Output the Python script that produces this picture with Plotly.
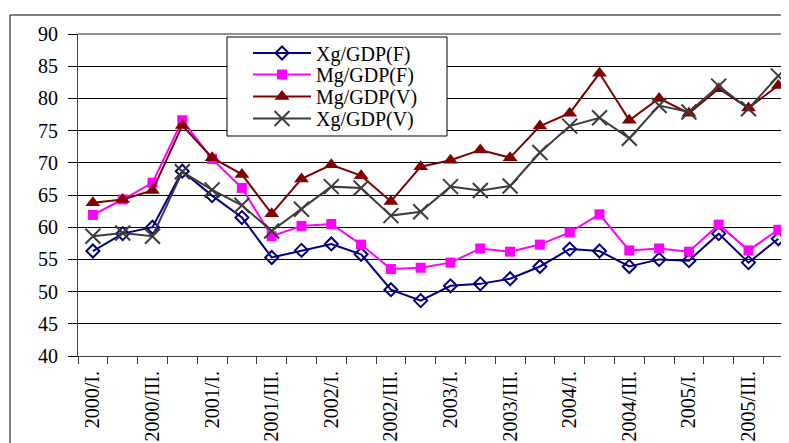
import plotly.graph_objects as go

# Quarterly categories, 2000/I. - 2005/IV.
quarters = [f"{y}/{q}." for y in range(2000, 2006) for q in ["I", "II", "III", "IV"]]
# only every other quarter gets a visible label
tick_labels = [q if i % 2 == 0 else "" for i, q in enumerate(quarters)]

xg_f = [56.3, 59.0, 60.0, 68.7, 64.9, 61.5, 55.3, 56.4, 57.4, 55.8, 50.3, 48.6,
        50.9, 51.2, 52.0, 53.9, 56.6, 56.3, 53.9, 55.0, 54.8, 59.0, 54.5, 58.2]
mg_f = [61.9, 64.3, 66.9, 76.6, 70.6, 66.1, 58.6, 60.2, 60.5, 57.3, 53.5, 53.7,
        54.5, 56.7, 56.2, 57.3, 59.2, 62.0, 56.4, 56.7, 56.2, 60.4, 56.4, 59.6]
mg_v = [63.8, 64.3, 65.7, 75.8, 70.8, 68.2, 62.1, 67.5, 69.7, 68.0, 64.0, 69.4,
        70.4, 72.0, 70.8, 75.7, 77.7, 83.9, 76.6, 80.0, 77.7, 81.5, 78.5, 82.0]
xg_v = [58.6, 59.1, 58.6, 68.6, 65.8, 63.4, 59.4, 62.8, 66.3, 66.1, 61.8, 62.4,
        66.3, 65.7, 66.4, 71.6, 75.7, 77.0, 73.8, 78.9, 77.9, 81.9, 78.4, 83.5]

series = [
    ("Xg/GDP(F)", xg_f, "#000080", dict(symbol="diamond-open", size=10, line=dict(width=2))),
    ("Mg/GDP(F)", mg_f, "#FF00FF", dict(symbol="square", size=10)),
    ("Mg/GDP(V)", mg_v, "#800000", dict(symbol="triangle-up", size=13)),
    ("Xg/GDP(V)", xg_v, "#3c3c3c", dict(symbol="x-thin-open", size=15, line=dict(width=2))),
]

# page body adds an 8px offset, so the figure is laid out 8px up/left
OFF = 8
W, H = 789 - OFF, 443 - OFF
L, T = 78 - OFF, 34 - OFF
B = H - (356 - OFF)
pw, ph = W - L, H - T - B

def px_x(x):  # screen px -> paper x
    return (x - 78) / pw

def px_y(y):  # screen px -> paper y
    return (356 - y) / ph

font = "Liberation Serif"
legend_rows = [53, 74.5, 96.5, 118.5]

fig = go.Figure()
legends = {}
for k, (name, vals, color, marker) in enumerate(series):
    key = "legend" if k == 0 else f"legend{k + 1}"
    fig.add_trace(go.Scatter(
        x=quarters, y=vals, name=name, mode="lines+markers", legend=key,
        showlegend=True,
        line=dict(color=color, width=2),
        marker=dict(color=color, **marker),
    ))
    legends[key] = dict(
        x=px_x(248), y=px_y(legend_rows[k]), xanchor="left", yanchor="middle",
        bgcolor="rgba(0,0,0,0)", borderwidth=0, itemwidth=58,
        font=dict(family=font, size=20),
    )

# outer chart frame (extends past the right/bottom edge)
fig.add_shape(type="rect", xref="paper", yref="paper",
              x0=px_x(10), x1=1.3, y0=-0.6, y1=px_y(15),
              line=dict(color="black", width=1), layer="below")
# gray top border of the plot area
fig.add_shape(type="line", xref="paper", yref="paper",
              x0=0, x1=1.2, y0=1, y1=1,
              line=dict(color="#909090", width=2), layer="between")
# legend frame
fig.add_shape(type="rect", xref="paper", yref="paper",
              x0=px_x(227), x1=px_x(447), y0=px_y(136), y1=px_y(37),
              fillcolor="white", line=dict(color="black", width=1), layer="above")

fig.update_layout(
    width=W, height=H,
    margin=dict(l=L, r=0, t=T, b=B, autoexpand=False),
    paper_bgcolor="white", plot_bgcolor="white",
    showlegend=True,
    font=dict(family=font, color="black", size=20),
    xaxis=dict(
        type="category", range=[-0.5, -0.5 + pw / 29.8], automargin=False,
        tickmode="array", tickvals=quarters, ticktext=tick_labels,
        tickson="boundaries", ticks="outside", ticklen=7, tickcolor="#404040",
        tickangle=-90, showgrid=False, showline=True, linecolor="#404040",
        tickfont=dict(family=font, size=20), ticklabelstandoff=6,
    ),
    yaxis=dict(
        range=[40, 90], dtick=5, ticks="outside", ticklen=9, tickcolor="black",
        showgrid=True, gridcolor="black", gridwidth=1, automargin=False,
        showline=True, linecolor="#404040", zeroline=False,
        tickfont=dict(family=font, size=20), ticklabelstandoff=6,
    ),
    **legends,
)

fig.write_html("out.html")
